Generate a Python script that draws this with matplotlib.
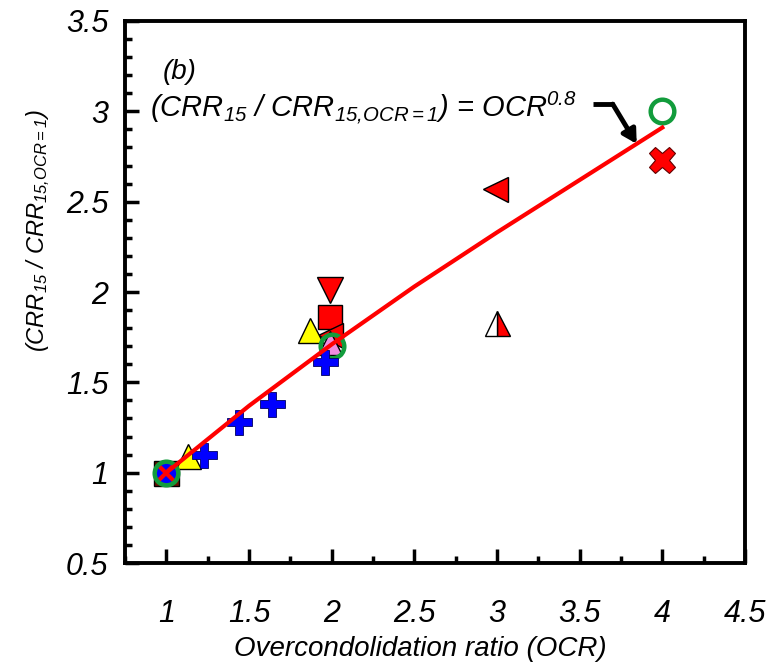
import matplotlib
matplotlib.use('Agg')
import matplotlib.pyplot as plt
from matplotlib.ticker import MultipleLocator, FixedLocator

plt.rcParams['font.family'] = ['Liberation Sans', 'DejaVu Sans']
plt.rcParams['font.style'] = 'italic'
plt.rcParams['mathtext.fontset'] = 'custom'
plt.rcParams['mathtext.it'] = 'Liberation Sans:italic'
plt.rcParams['mathtext.rm'] = 'Liberation Sans:italic'
plt.rcParams['mathtext.default'] = 'it'

# data (normalised CRR vs OCR)
plus_x = [1.23, 1.44, 1.64, 1.96]
plus_y = [1.10, 1.28, 1.38, 1.61]
ytri_x = [1.13, 1.87]
ytri_y = [1.09, 1.79]
sq_x = [1.99]
sq_y = [1.86]
dtri_x = [1.99]
dtri_y = [2.01]
ltri_x = [1.99, 2.99]
ltri_y = [1.76, 2.57]
half_x = [3.0]
half_y = [1.83]
pink_x = [1.99]
pink_y = [1.72]
ring_x = [1.0, 2.0, 4.0]
ring_y = [1.0, 1.70, 3.0]
cross_x = [4.0]
cross_y = [2.73]
base_x = [1.0]
base_y = [1.0]

# fitted trend line
fit_x = [1.0, 1.5, 2.0, 2.5, 3.0, 3.5, 4.0]
fit_y = [1.0, 1.37, 1.71, 2.03, 2.33, 2.62, 2.91]

xticks = [1, 1.5, 2, 2.5, 3, 3.5, 4, 4.5]
xlabels = ['1', '1.5', '2', '2.5', '3', '3.5', '4', '4.5']
yticks = [0.5, 1, 1.5, 2, 2.5, 3, 3.5]
ylabels = ['0.5', '1', '1.5', '2', '2.5', '3', '3.5']

fig = plt.figure(figsize=(7.74, 6.62), dpi=100)
ax = fig.add_axes([0.1615, 0.1495, 0.801, 0.8188])

ax.plot(base_x, base_y, 's', ms=18, mfc='#6b0f00', mec='black', mew=1, zorder=3)
ax.plot(base_x, base_y, 'o', ms=15, mfc='blue', mec='blue', zorder=3)
ax.plot(base_x, base_y, 'x', ms=12, mec='red', mew=3, zorder=3)
ax.plot(dtri_x, dtri_y, 'v', ms=19, mfc='red', mec='black', mew=1, zorder=3)
ax.plot(sq_x, sq_y, 's', ms=17, mfc='red', mec='black', mew=1, zorder=3)
ax.plot(ltri_x, ltri_y, '<', ms=18, mfc='red', mec='black', mew=1, zorder=3)
ax.plot(ytri_x, ytri_y, '^', ms=18, mfc='yellow', mec='black', mew=1, zorder=3)
ax.plot(pink_x, pink_y, '^', ms=17, mfc='#f08ce0', mec='black', mew=1, zorder=3)
ax.plot(half_x, half_y, '^', ms=18, fillstyle='right', mfc='red',
        mfcalt='white', mec='black', mew=1, zorder=3)
ax.plot(cross_x, cross_y, 'X', ms=19, mfc='red', mec='#600000', mew=0.8, zorder=4)
ax.plot(ring_x, ring_y, 'o', ms=17, mfc='none', mec='#129c3c', mew=3.2, zorder=4)
ax.plot(plus_x, plus_y, 'P', ms=18, mfc='blue', mec='#000060', mew=0.6, zorder=4)

ax.plot(fit_x, fit_y, '-', color='red', lw=3, zorder=5)

# arrow pointing at the trend line
ax.plot([3.58, 3.71], [3.04, 3.04], color='black', lw=3.5, solid_capstyle='butt', zorder=6)
ax.annotate('', xy=(3.845, 2.82), xytext=(3.70, 3.04),
            arrowprops=dict(arrowstyle='-|>,head_length=0.8,head_width=0.45',
                            lw=3.5, color='black', shrinkA=0, shrinkB=0), zorder=6)

ax.text(0.98, 3.22, '(b)', fontsize=20, ha='left', va='center')
ax.text(0.9, 3.02, r'(CRR$_{15}$ / CRR$_{15{,}OCR{=}1}$) = OCR$^{0.8}$',
        fontsize=21, ha='left', va='center')

ax.set_xlim(0.75, 4.5)
ax.set_ylim(0.5, 3.5)
ax.xaxis.set_major_locator(FixedLocator(xticks))
ax.xaxis.set_minor_locator(MultipleLocator(0.25))
ax.yaxis.set_major_locator(FixedLocator(yticks))
ax.yaxis.set_minor_locator(MultipleLocator(0.1))
ax.set_xticklabels(xlabels)
ax.set_yticklabels(ylabels)

ax.tick_params(which='both', direction='in', top=False, right=False,
               labelsize=22, width=2.5)
ax.tick_params(axis='x', which='major', length=10, pad=26)
ax.tick_params(axis='x', which='minor', length=5)
ax.tick_params(axis='y', which='major', length=10, pad=12)
ax.tick_params(axis='y', which='minor', length=5)
for s in ax.spines.values():
    s.set_linewidth(2.8)

ax.set_xlabel('Overcondolidation ratio (OCR)', fontsize=20)
ax.set_ylabel(r'(CRR$_{15}$ / CRR$_{15{,}OCR{=}1}$)', fontsize=17)
ax.xaxis.set_label_coords(0.476, -0.135)
ax.yaxis.set_label_coords(-0.118, 0.613)

fig.savefig('out.png', dpi=100, facecolor='white')
